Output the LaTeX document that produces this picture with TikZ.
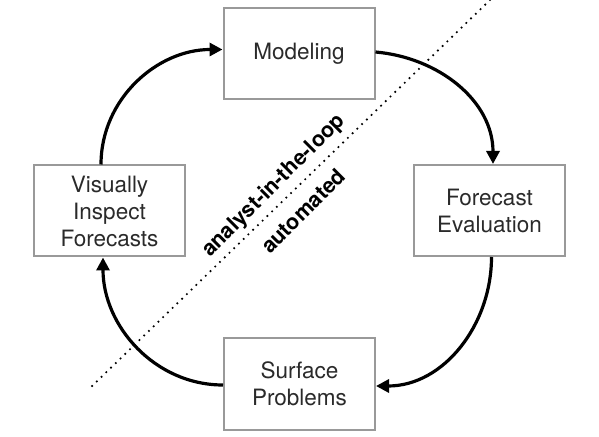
\documentclass[tikz,border=0pt]{standalone}
\usepackage{fontspec}
\setmainfont{TeX Gyre Heros}
\usetikzlibrary{arrows.meta}
\definecolor{boxgray}{HTML}{999999}
\definecolor{txtgray}{HTML}{2A2A2A}
\tikzset{
  stepbox/.style={draw=boxgray, line width=2pt, minimum width=151pt, minimum height=91pt,
    inner sep=0pt, align=center, text=txtgray, font=\fontsize{22.5}{27}\selectfont},
  flow/.style={line width=3.2pt, -{Triangle[length=13pt,width=13pt]}},
  sidelabel/.style={rotate=45, font=\fontsize{21.5}{24}\selectfont\bfseries, inner sep=0pt},
  divider/.style={line width=2.4pt, line cap=round, dash pattern=on 0pt off 6.6pt}
}
\begin{document}
\begin{tikzpicture}[x=1pt,y=1pt]
\useasboundingbox (0,0) rectangle (599,436);
\node[stepbox] (mod)  at (299,382.5) {Modeling};
\node[stepbox] (eval) at (489.5,225.5) {Forecast\\Evaluation};
\node[stepbox] (vis)  at (109.5,225) {Visually\\Inspect\\Forecasts};
\node[stepbox] (surf) at (299.5,52) {Surface\\Problems};
\coordinate (d1) at (490,436);
\coordinate (d2) at (88,46);
\draw[divider] (d1) -- (d2);
\node[sidelabel] (ana) at (274,250) {analyst-in-the-loop};
\node[sidelabel] (aut) at (303,225) {automated};
\draw[flow] ([xshift=-8.5pt]vis.north) to[out=90,in=180] ([yshift=4pt]mod.west);
\draw[flow] ([yshift=1.5pt]mod.east) to[out=-5,in=90] ([xshift=3.5pt]eval.north);
\draw[flow] ([xshift=2pt]eval.south) to[out=-90,in=0] ([yshift=-2pt]surf.east);
\draw[flow] ([yshift=-1pt]surf.west) to[out=180,in=-90] ([xshift=-6.5pt]vis.south);
\end{tikzpicture}
\end{document}
